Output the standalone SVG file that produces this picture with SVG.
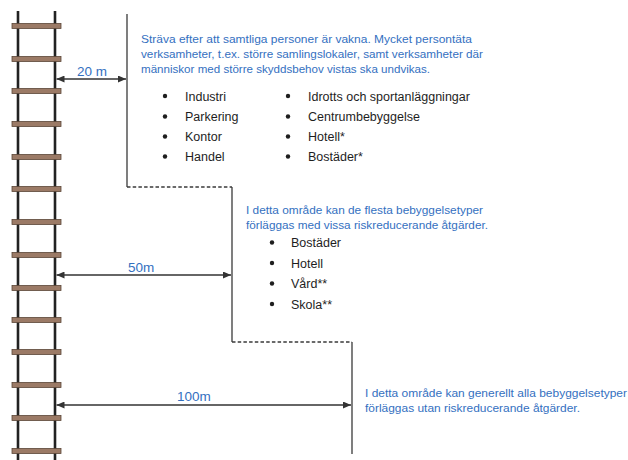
<svg xmlns="http://www.w3.org/2000/svg" width="628" height="460" viewBox="0 0 628 460">
<style>
.rail{stroke:#222;stroke-width:2.6;fill:none}
.rung{fill:#9b7a66;stroke:#5b4637;stroke-width:0.8}
.bnd{stroke:#3a3a3a;stroke-width:1.3;fill:none}
.dash{stroke:#3a3a3a;stroke-width:1.3;fill:none;stroke-dasharray:3.5 2.2}
.arr{stroke:#333;stroke-width:1.3;fill:none;marker-start:url(#ah);marker-end:url(#ah)}
.blue{font-family:"Liberation Sans",Arial,sans-serif;font-size:11px;fill:#3470bf}
.lbl{font-family:"Liberation Sans",Arial,sans-serif;font-size:13.5px;fill:#3470bf}
.item{font-family:"Liberation Sans",Arial,sans-serif;font-size:12.5px;fill:#1e1e1e}
.dot{fill:#1e1e1e}
</style>
<defs>
<marker id="ah" viewBox="0 0 8 7" refX="8" refY="3.5" markerWidth="8" markerHeight="7" markerUnits="userSpaceOnUse" orient="auto-start-reverse">
<path d="M0,0 L8,3.5 L0,7 z" fill="#333"/>
</marker>
<rect id="r" class="rung" x="12" y="-2.5" width="49" height="5"/>
</defs>
<rect width="628" height="460" fill="#fff"/>
<g id="ladder">
<line class="rail" x1="18" y1="11" x2="18" y2="460"/>
<line class="rail" x1="55" y1="11" x2="55" y2="460"/>
<use href="#r" y="26"/><use href="#r" y="59"/><use href="#r" y="91"/><use href="#r" y="124"/>
<use href="#r" y="157"/><use href="#r" y="189"/><use href="#r" y="222"/><use href="#r" y="255"/>
<use href="#r" y="288"/><use href="#r" y="320"/><use href="#r" y="352"/><use href="#r" y="385"/>
<use href="#r" y="418"/><use href="#r" y="451"/>
</g>
<g id="boundary">
<path class="bnd" d="M127,14 V187"/>
<path class="dash" d="M127,187 H232"/>
<path class="bnd" d="M232,187 V342"/>
<path class="dash" d="M232,342 H352"/>
<path class="bnd" d="M352,342 V454"/>
</g>
<g id="connectors">
<line class="arr" x1="56.5" y1="79" x2="126" y2="79"/>
<line class="arr" x1="56.5" y1="275" x2="231" y2="275"/>
<line class="arr" x1="56.5" y1="405" x2="351" y2="405"/>
</g>
<g id="label-20m"><text class="lbl" x="92" y="76" text-anchor="middle">20 m</text></g>
<g id="label-50m"><text class="lbl" x="128" y="272">50m</text></g>
<g id="label-100m"><text class="lbl" x="177" y="401">100m</text></g>
<g id="zone-20m">
<text class="blue" x="141" y="43" textLength="331" lengthAdjust="spacingAndGlyphs">Sträva efter att samtliga personer är vakna. Mycket persontäta</text>
<text class="blue" x="141" y="58" textLength="342" lengthAdjust="spacingAndGlyphs">verksamheter, t.ex. större samlingslokaler, samt verksamheter där</text>
<text class="blue" x="141" y="73" textLength="289" lengthAdjust="spacingAndGlyphs">människor med större skyddsbehov vistas ska undvikas.</text>
<circle class="dot" cx="165" cy="96" r="2.2"/><text class="item" x="185" y="100.5">Industri</text>
<circle class="dot" cx="165" cy="116.5" r="2.2"/><text class="item" x="185" y="121">Parkering</text>
<circle class="dot" cx="165" cy="136.5" r="2.2"/><text class="item" x="185" y="141">Kontor</text>
<circle class="dot" cx="165" cy="156.5" r="2.2"/><text class="item" x="185" y="161">Handel</text>
<circle class="dot" cx="288" cy="96" r="2.2"/><text class="item" x="308" y="100.5">Idrotts och sportanläggningar</text>
<circle class="dot" cx="288" cy="116.5" r="2.2"/><text class="item" x="308" y="121">Centrumbebyggelse</text>
<circle class="dot" cx="288" cy="136.5" r="2.2"/><text class="item" x="308" y="141">Hotell*</text>
<circle class="dot" cx="288" cy="156.5" r="2.2"/><text class="item" x="308" y="161">Bostäder*</text>
</g>
<g id="zone-50m">
<text class="blue" x="246" y="214" textLength="237" lengthAdjust="spacingAndGlyphs">I detta område kan de flesta bebyggelsetyper</text>
<text class="blue" x="246" y="229" textLength="242" lengthAdjust="spacingAndGlyphs">förläggas med vissa riskreducerande åtgärder.</text>
<circle class="dot" cx="272" cy="242.5" r="2.2"/><text class="item" x="291" y="247">Bostäder</text>
<circle class="dot" cx="272" cy="263" r="2.2"/><text class="item" x="291" y="267.5">Hotell</text>
<circle class="dot" cx="272" cy="283.5" r="2.2"/><text class="item" x="291" y="288">Vård**</text>
<circle class="dot" cx="272" cy="304" r="2.2"/><text class="item" x="291" y="308.5">Skola**</text>
</g>
<g id="zone-100m">
<text class="blue" x="365" y="397" textLength="262" lengthAdjust="spacingAndGlyphs">I detta område kan generellt alla bebyggelsetyper</text>
<text class="blue" x="365" y="412" textLength="215" lengthAdjust="spacingAndGlyphs">förläggas utan riskreducerande åtgärder.</text>
</g>
</svg>
